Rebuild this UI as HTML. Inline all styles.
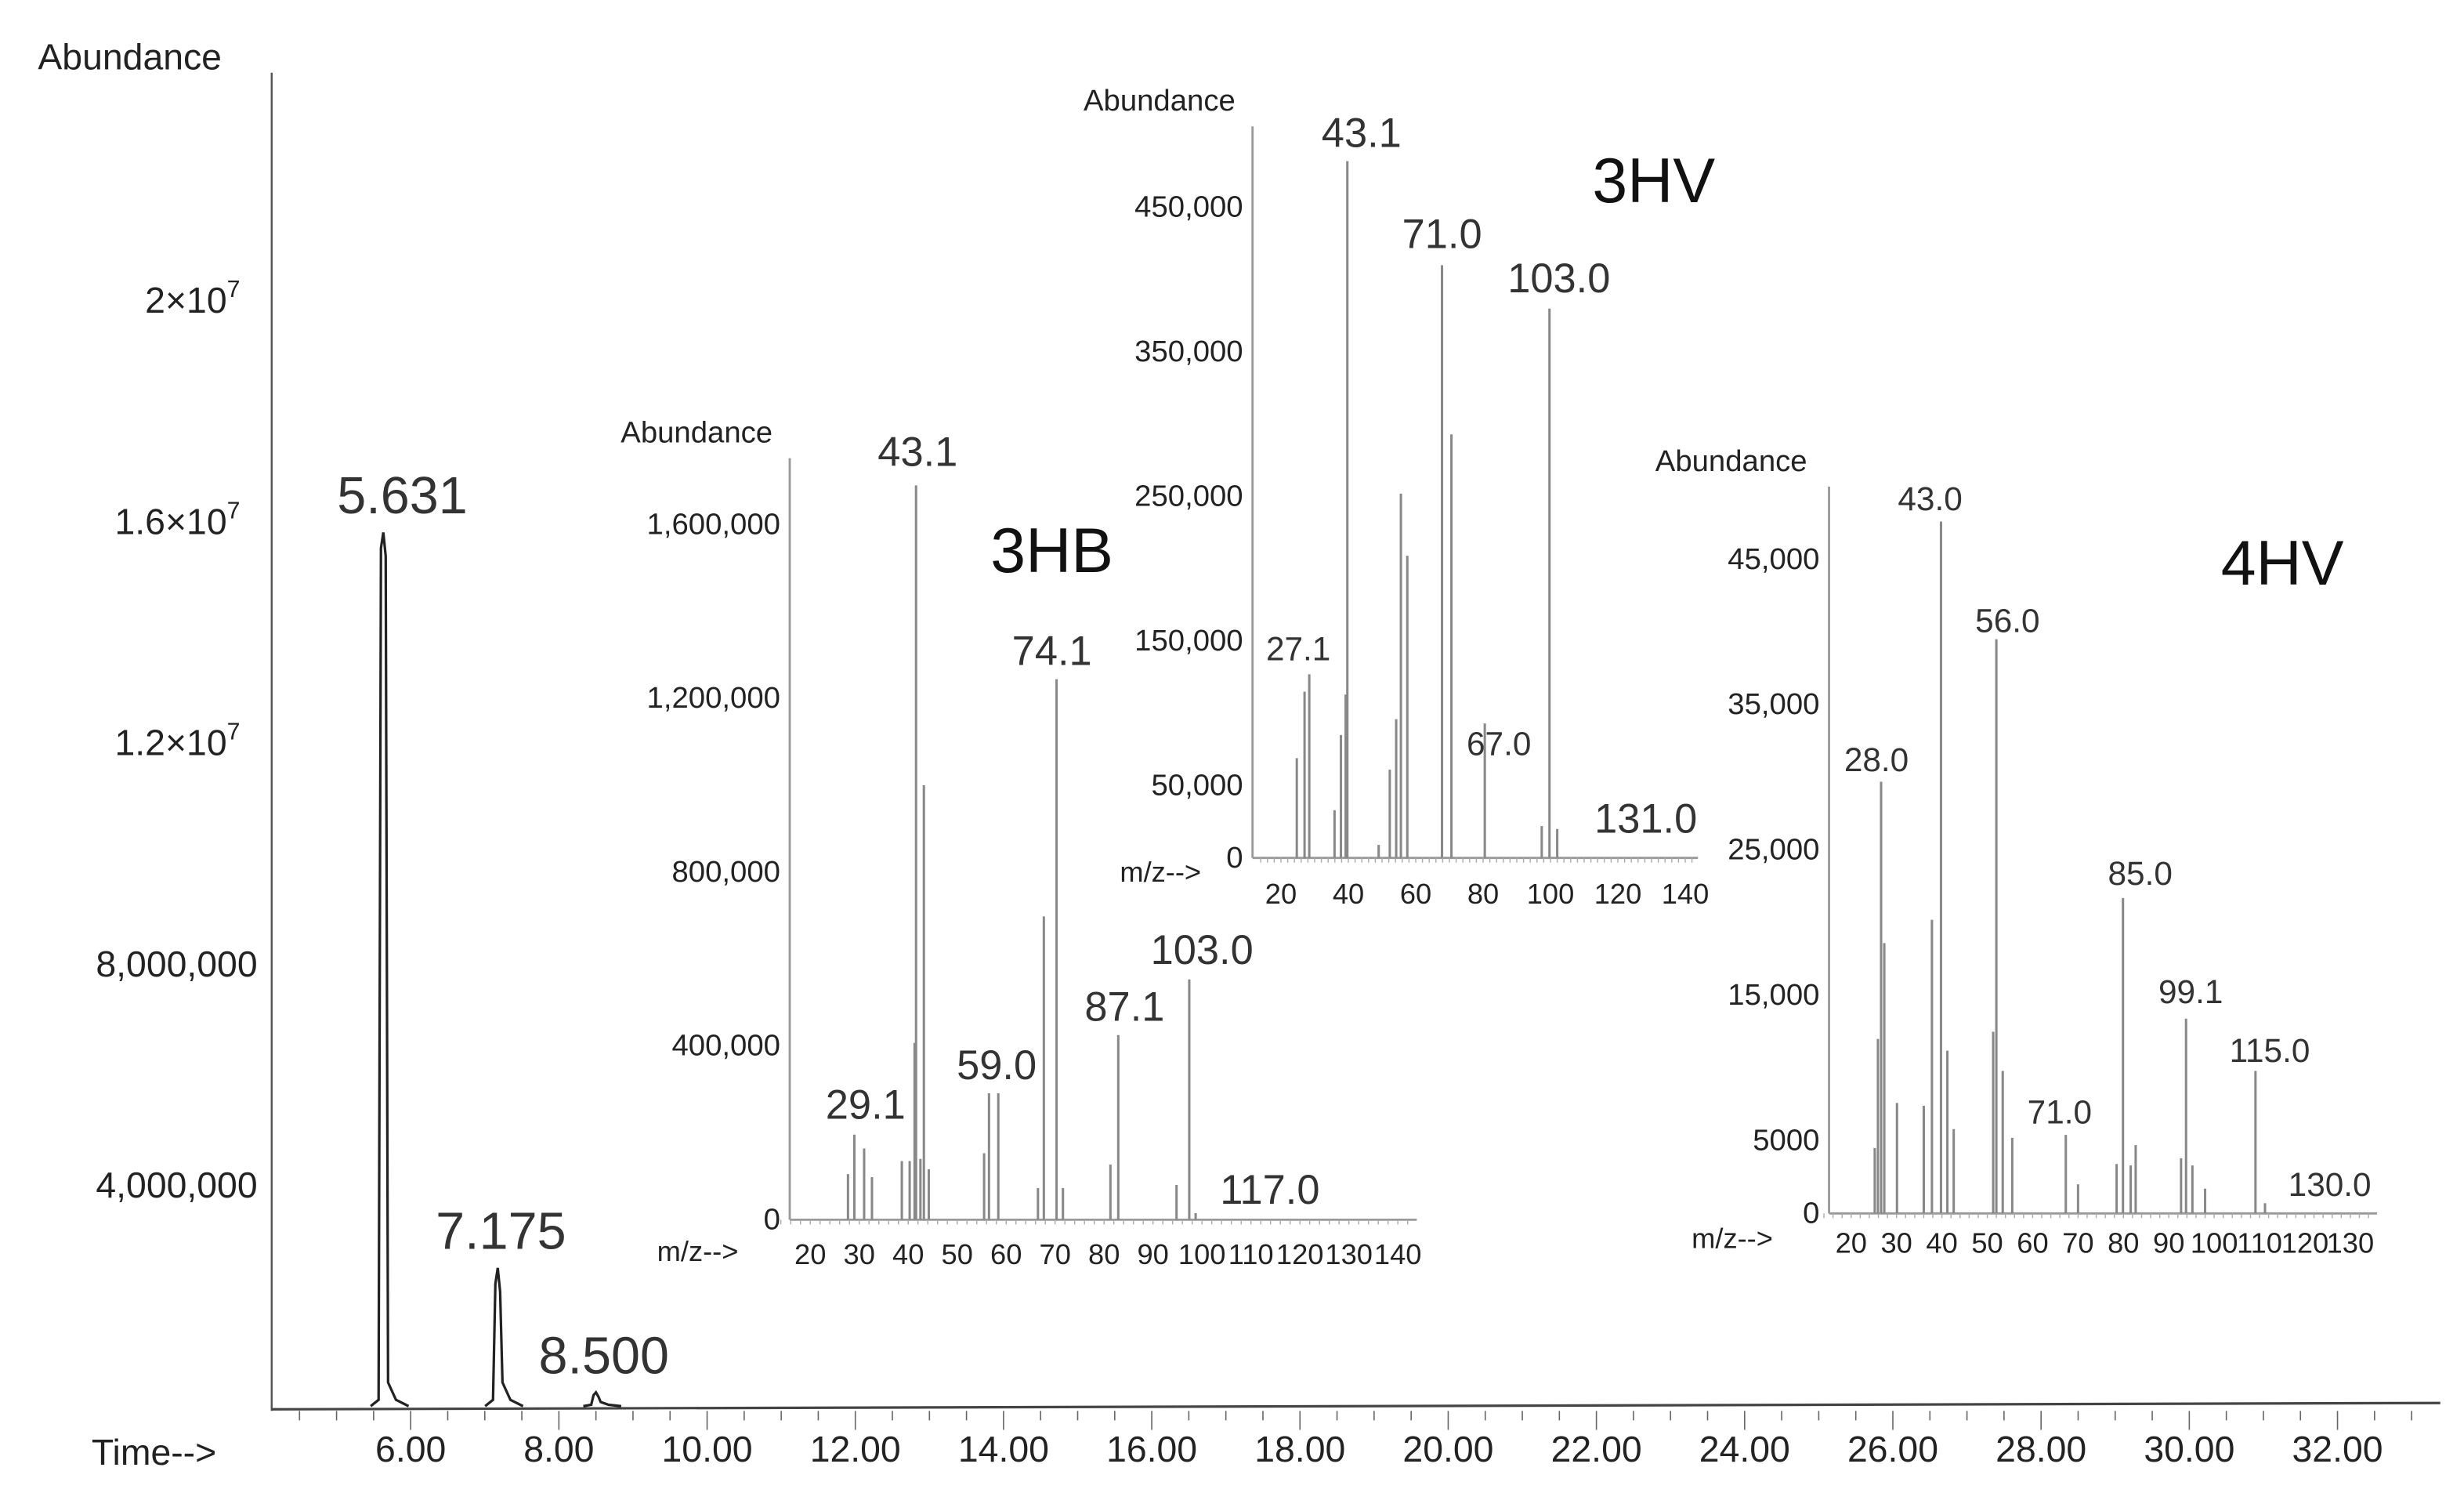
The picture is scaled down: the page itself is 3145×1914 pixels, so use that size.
<!DOCTYPE html>
<html><head><meta charset="utf-8"><style>
html,body{margin:0;padding:0;background:#fff;}
svg{display:block;}
text{font-family:"Liberation Sans",sans-serif;}
</style></head>
<body>
<svg id="chart" xmlns="http://www.w3.org/2000/svg" width="3145" height="1914" viewBox="0 0 1560 949.4">
<rect x="0" y="0" width="1560" height="949.4" fill="#fff"/>
<g id="main"></g>
<g id="i3hb"></g>
<g id="i3hv"></g>
<g id="i4hv"></g>
</svg>
<script>
// ---- main chromatogram data ----
const timeTicks = [6,8,10,12,14,16,18,20,22,24,26,28,30,32];
const timeTickLabels = ["6.00","8.00","10.00","12.00","14.00","16.00","18.00","20.00","22.00","24.00","26.00","28.00","30.00","32.00"];
const abundTicks = [4e6,8e6,1.2e7,1.6e7,2e7];
const abundTickLabels = ["4,000,000","8,000,000","1.2×10","1.6×10","2×10"];
const peakTimes = [5.631,7.175,8.5];
const peakHeights = [15.8e6,2.5e6,0.25e6];
const peakLabels = ["5.631","7.175","8.500"];

// ---- 3HB ----
const hbMz = [27.7,29.0,31.0,32.6,38.7,40.3,41.3,41.6,42.5,43.2,44.2,55.5,56.5,58.4,66.5,67.7,70.3,71.6,81.3,82.9,94.8,97.4,98.7];
const hbAb = [105e3,196e3,164e3,98e3,135e3,135e3,407e3,1690e3,140e3,1000e3,116e3,153e3,291e3,291e3,73e3,698e3,1244e3,73e3,127e3,425e3,80e3,553e3,15e3];
const hbYTicks = [0,400000,800000,1200000,1600000];
const hbYLabels = ["0","400,000","800,000","1,200,000","1,600,000"];
const hbXTicks = [20,30,40,50,60,70,80,90,100,110,120,130,140];

// ---- 3HV ----
const hvMz = [24.7,27.0,28.4,35.9,37.8,39.2,39.7,49.0,52.3,54.2,55.6,57.5,67.8,70.6,80.5,97.4,99.7,102.0];
const hvAb = [69e3,115e3,127e3,33e3,85e3,113e3,482e3,9e3,61e3,96e3,252e3,209e3,410e3,293e3,93e3,22e3,380e3,20e3];
const hvYTicks = [0,50000,150000,250000,350000,450000];
const hvYLabels = ["0","50,000","150,000","250,000","350,000","450,000"];
const hvXTicks = [20,40,60,80,100,120,140];

// ---- 4HV ----
const fvMz = [25.2,25.9,26.6,27.3,30.1,36.0,37.8,39.8,41.2,42.6,51.3,52.0,53.4,55.5,67.3,70.0,78.5,79.9,81.6,82.7,92.7,93.8,95.2,98.0,109.1,111.2];
const fvAb = [4500,12000,29700,18600,7600,7400,20200,47600,11200,5800,12500,39500,9800,5200,5400,2000,3400,21700,3300,4700,3800,13400,3300,1700,9800,700];
const fvYTicks = [0,5000,15000,25000,35000,45000];
const fvYLabels = ["0","5000","15,000","25,000","35,000","45,000"];
const fvXTicks = [20,30,40,50,60,70,80,90,100,110,120,130];

const NS="http://www.w3.org/2000/svg";
function mk(parent,tag,attrs,txt){const e=document.createElementNS(NS,tag);for(const k in attrs)e.setAttribute(k,attrs[k]);if(txt!==undefined)e.textContent=txt;parent.appendChild(e);return e;}

// ---- main chart ----
(function(){
  const g=document.getElementById('main');
  const tx=t=>260+(t-6)*46.92;
  const ya=v=>890-35*v/1e6;
  const labelDx=[12,2,5];
  const t1=mk(g,'text',{x:24,y:44,'font-size':23,fill:'#222'},'Abundance');
  
  
  const ax=mk(g,'line',{x1:172,y1:46,x2:172,y2:893,stroke:'#555','stroke-width':1.2});
  
  
  const bx=mk(g,'line',{x1:172,y1:892,x2:1545,y2:888,stroke:'#444','stroke-width':1.6});
  
  
  for(let t=4.5;t<=33;t+=0.5){const x=tx(t);const big=Math.abs(t-Math.round(t/2)*2)<0.01;mk(g,'line',{x1:x,y1:893,x2:x,y2:big?905:899,stroke:'#666','stroke-width':0.8});}
  const xt=mk(g,'text',{x:58,y:927,'font-size':23,fill:'#222'},'Time-->');
  
  
  timeTicks.forEach((t,i)=>{
    const e=mk(g,'text',{x:tx(t),y:925,'font-size':23,fill:'#222','text-anchor':'middle'},timeTickLabels[i]);
    
    
  });
  abundTicks.forEach((v,i)=>{
    const e=mk(g,'text',{x:i<2?163:152,y:ya(v)+8,'font-size':23,fill:'#222','text-anchor':'end'},abundTickLabels[i]);
    if(i>=2){mk(e,'tspan',{dy:-10,'font-size':15},'7');}
    
    
  });
  peakTimes.forEach((t,i)=>{
    const x=tx(t),h=peakHeights[i],y0=ya(0),yt=ya(h);
    const H=y0-yt;
    const tail=Math.min(15,H*0.3);
    const d=`M${x-8},${y0} L${x-3},${y0-Math.min(4,H*0.1)} L${x-1.5},${yt+Math.min(10,H*0.2)} L${x},${yt} L${x+1.5},${yt+Math.min(15,H*0.3)} L${x+3},${y0-tail} L${x+8},${y0-Math.min(4,H*0.1)} L${x+16},${y0}`;
    const p=mk(g,'path',{d:d,fill:'none',stroke:'#222','stroke-width':1.6});
    
    
    const lbl=mk(g,'text',{x:x+labelDx[i],y:Math.min(yt-12,875),'font-size':33,fill:'#333','text-anchor':'middle'},peakLabels[i]);
    
    
  });
})();

function inset(id,cfg,mz,ab,yT,yL,xT,labels,title){
  const g=document.getElementById(id);
  const X=m=>cfg.x0+(m-20)*cfg.kx, Y=v=>cfg.y0-v*cfg.ky;
  const a=mk(g,'text',{x:cfg.abx,y:cfg.aby,'font-size':19,fill:'#222'},'Abundance');
  
  
  const yl=mk(g,'line',{x1:cfg.ax,y1:cfg.top,x2:cfg.ax,y2:cfg.y0,stroke:'#999','stroke-width':1.4});
  
  
  const xl=mk(g,'line',{x1:cfg.ax,y1:cfg.y0,x2:cfg.right,y2:cfg.y0,stroke:'#999','stroke-width':1.4});
  
  
  for(let m=14;X(m)<=cfg.right;m+=2){mk(g,'line',{x1:X(m),y1:cfg.y0,x2:X(m),y2:cfg.y0+3,stroke:'#aaa','stroke-width':0.7});}
  const mzt=mk(g,'text',{x:cfg.mzx,y:cfg.mzy,'font-size':18,fill:'#222'},'m/z-->');
  
  
  xT.forEach(m=>{
    const e=mk(g,'text',{x:X(m),y:cfg.xly,'font-size':cfg.xfs,fill:'#222','text-anchor':'middle'},String(m));
    
    
  });
  yT.forEach((v,i)=>{
    const e=mk(g,'text',{x:cfg.ax-6,y:Y(v)+6,'font-size':19,fill:'#222','text-anchor':'end'},yL[i]);
    
    
  });
  mz.forEach((m,i)=>{
    const b=mk(g,'line',{x1:X(m),y1:cfg.y0,x2:X(m),y2:Y(ab[i]),stroke:'#888','stroke-width':1.5});
    
    
  });
  labels.forEach(l=>{
    const e=mk(g,'text',{x:l[1],y:l[2],'font-size':l[3]||26,fill:'#333','text-anchor':'middle'},l[0]);
    
    
  });
  const t=mk(g,'text',{x:title[1],y:title[2],'font-size':40,fill:'#111','text-anchor':'middle'},title[0]);
  
  
}

inset('i3hb',{x0:513,kx:3.1,y0:772,ky:110/400000,ax:500,top:290,right:897,abx:393,aby:280,mzx:416,mzy:798,xly:800,xfs:18},
  hbMz,hbAb,hbYTicks,hbYLabels,hbXTicks,
  [["43.1",581,295],["74.1",666,421],["29.1",548,708],["59.0",631,683],["87.1",712,646],["103.0",761,610],["117.0",804,762]],["3HB",666,362]);
inset('i3hv',{x0:811,kx:2.133,y0:543,ky:0.000915,ax:793,top:80,right:1075,abx:686,aby:70,mzx:709,mzy:558,xly:572,xfs:18},
  hvMz,hvAb,hvYTicks,hvYLabels,hvXTicks,
  [["43.1",862,93],["71.0",913,157],["103.0",987,185],["27.1",822,418,21],["67.0",949,478,21],["131.0",1042,527]],["3HV",1047,128]);
inset('i4hv',{x0:1172,kx:2.873,y0:768,ky:0.0092,ax:1158,top:308,right:1505,abx:1048,aby:298,mzx:1071,mzy:790,xly:793,xfs:18},
  fvMz,fvAb,fvYTicks,fvYLabels,fvXTicks,
  [["43.0",1222,323,21],["56.0",1271,400,21],["28.0",1188,488,21],["85.0",1355,560,21],["99.1",1387,635,21],["115.0",1437,672,21],["71.0",1304,711,21],["130.0",1475,757,21]],["4HV",1445,370]);
</script>
</body></html>
